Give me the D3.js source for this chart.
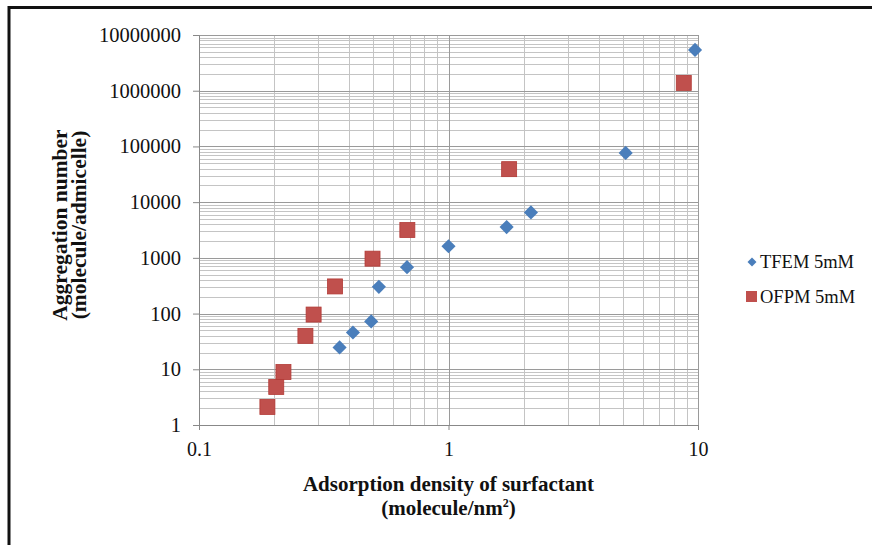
<!DOCTYPE html>
<meta charset="utf-8">
<style>
    body { margin: 0; background: #fff; }
    svg { display: block; }
    text { font-family: "Liberation Serif", "Times New Roman", serif; fill: #111; }
</style>

<script src="https://d3js.org/d3.v7.min.js"></script>

<svg id="chart" width="872" height="545"></svg>

<script>

// Data

var seriesNames = ['TFEM 5mM', 'OFPM 5mM'];

var tfemX = [0.366, 0.414, 0.49, 0.526, 0.682, 1.0, 1.71, 2.14, 5.13, 9.73];
var tfemY = [24.7, 45.8, 72.4, 302, 680, 1615, 3570, 6540, 76400, 5400000];

var ofpmX = [0.188, 0.204, 0.218, 0.267, 0.288, 0.351, 0.496, 0.684, 1.75, 8.77];
var ofpmY = [2.11, 4.82, 8.93, 39.8, 96, 307, 967, 3160, 39100, 1380000];

var xTicks = [0.1, 1, 10];
var yTicks = [1, 10, 100, 1000, 10000, 100000, 1000000, 10000000];


// Setup

var svg = d3.select('svg#chart');

var plotLeft = 199, plotRight = 698, plotTop = 35, plotBottom = 425;

var x = d3.scaleLog().domain([0.1, 10]).range([plotLeft, plotRight]);
var y = d3.scaleLog().domain([1, 10000000]).range([plotBottom, plotTop]);

var blue = '#4a7ebb';
var red = '#c0504d';

// frame lines (top and left only, as in the picture)
svg.append('line')
    .attr('x1', 8).attr('x2', 872).attr('y1', 7.5).attr('y2', 7.5)
    .attr('stroke', '#111').attr('stroke-width', 3);
svg.append('line')
    .attr('x1', 9).attr('x2', 9).attr('y1', 6).attr('y2', 545)
    .attr('stroke', '#111').attr('stroke-width', 3);


// Grid

var minorX = [];
[0.1, 1].forEach(function (d) {
    d3.range(2, 10).forEach(function (k) { minorX.push(d * k); });
});
var minorY = [];
yTicks.slice(0, -1).forEach(function (d) {
    d3.range(2, 10).forEach(function (k) { minorY.push(d * k); });
});

var grid = svg.append('g');

grid.selectAll('line.minory')
    .data(minorY)
    .enter().append('line')
    .attr('x1', plotLeft).attr('x2', plotRight)
    .attr('y1', function (d) { return Math.round(y(d)) + 0.5; })
    .attr('y2', function (d) { return Math.round(y(d)) + 0.5; })
    .attr('stroke', '#c4c4c4');

grid.selectAll('line.minorx')
    .data(minorX)
    .enter().append('line')
    .attr('y1', plotTop).attr('y2', plotBottom)
    .attr('x1', function (d) { return Math.round(x(d)) + 0.5; })
    .attr('x2', function (d) { return Math.round(x(d)) + 0.5; })
    .attr('stroke', '#c4c4c4');

grid.selectAll('line.majory')
    .data(yTicks)
    .enter().append('line')
    .attr('x1', plotLeft).attr('x2', plotRight)
    .attr('y1', function (d) { return Math.round(y(d)) + 0.5; })
    .attr('y2', function (d) { return Math.round(y(d)) + 0.5; })
    .attr('stroke', '#9a9a9a');

grid.selectAll('line.majorx')
    .data(xTicks)
    .enter().append('line')
    .attr('y1', plotTop).attr('y2', plotBottom)
    .attr('x1', function (d) { return Math.round(x(d)) + 0.5; })
    .attr('x2', function (d) { return Math.round(x(d)) + 0.5; })
    .attr('stroke', '#9a9a9a');


// Axes

var yAxis = d3.axisLeft(y)
    .tickValues(yTicks)
    .tickFormat(d3.format('d'))
    .tickSize(6)
    .tickPadding(12);

var yg = svg.append('g')
    .attr('transform', 'translate(' + plotLeft + ',0)')
    .call(yAxis);
yg.select('.domain').attr('stroke', '#888');
yg.selectAll('.tick line').attr('stroke', '#888');
yg.selectAll('text')
    .attr('font-size', 20.5)
    .attr('font-family', '"Liberation Serif", serif')
    .attr('fill', '#111');

var xAxis = d3.axisBottom(x)
    .tickValues(xTicks)
    .tickFormat(function (d) { return String(d); })
    .tickSize(5)
    .tickPadding(12);

var xg = svg.append('g')
    .attr('transform', 'translate(0,' + plotBottom + ')')
    .call(xAxis);
xg.select('.domain').attr('stroke', '#888');
xg.selectAll('.tick line').attr('stroke', '#888');
xg.selectAll('text')
    .attr('font-size', 20)
    .attr('font-family', '"Liberation Serif", serif')
    .attr('fill', '#111');


// Points

var tfem = tfemX.map(function (d, i) { return [d, tfemY[i]]; });
var ofpm = ofpmX.map(function (d, i) { return [d, ofpmY[i]]; });

svg.append('g').selectAll('rect')
    .data(ofpm)
    .enter().append('rect')
    .attr('x', function (d) { return x(d[0]) - 7.5; })
    .attr('y', function (d) { return y(d[1]) - 7.5; })
    .attr('width', 15).attr('height', 15)
    .attr('fill', red)
    .attr('stroke', '#b23a36').attr('stroke-width', 0.8);

var diamond = d3.symbol().type(d3.symbolSquare).size(100);

svg.append('g').selectAll('path')
    .data(tfem)
    .enter().append('path')
    .attr('d', diamond)
    .attr('transform', function (d) {
        return 'translate(' + x(d[0]) + ',' + y(d[1]) + ') rotate(45)';
    })
    .attr('fill', blue);


// Titles

var ytitle = svg.append('text')
    .attr('transform', 'translate(67,225) rotate(-90)')
    .attr('text-anchor', 'middle')
    .attr('font-weight', 'bold')
    .attr('font-size', 21.5);
ytitle.append('tspan').attr('x', 0).attr('dy', 0).text('Aggregation number');
ytitle.append('tspan').attr('x', 0).attr('dy', 19).text('(molecule/admicelle)');

var xtitle = svg.append('text')
    .attr('x', x(1))
    .attr('y', 491)
    .attr('text-anchor', 'middle')
    .attr('font-weight', 'bold')
    .attr('font-size', 21)
    .text('Adsorption density of surfactant');

var xtitle2 = svg.append('text')
    .attr('x', x(1))
    .attr('y', 515)
    .attr('text-anchor', 'middle')
    .attr('font-weight', 'bold')
    .attr('font-size', 21);
xtitle2.append('tspan').text('(molecule/nm');
xtitle2.append('tspan').attr('font-size', 12).attr('dy', -8).text('2');
xtitle2.append('tspan').attr('dy', 8).text(')');


// Legend

var legend = svg.append('g');

legend.append('path')
    .attr('d', d3.symbol().type(d3.symbolSquare).size(40))
    .attr('transform', 'translate(752,262) rotate(45)')
    .attr('fill', blue);
legend.append('text')
    .attr('x', 760).attr('y', 268)
    .attr('font-size', 18.5)
    .text(seriesNames[0]);

legend.append('rect')
    .attr('x', 746).attr('y', 291)
    .attr('width', 11).attr('height', 11)
    .attr('fill', red);
legend.append('text')
    .attr('x', 760).attr('y', 303)
    .attr('font-size', 18.5)
    .text(seriesNames[1]);

</script>
